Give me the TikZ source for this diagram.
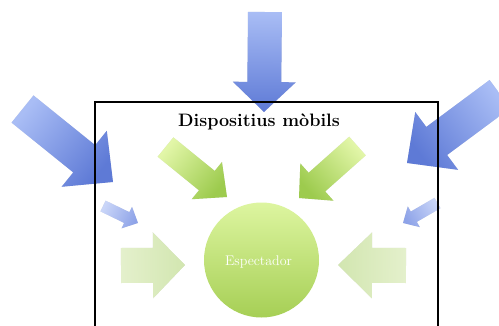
\documentclass[tikz,border=0pt]{standalone}
\usetikzlibrary{calc}
\definecolor{bluelight}{HTML}{A9BDF5}
\definecolor{bluedark}{HTML}{5E7AD6}
\definecolor{bluepale}{HTML}{C9D5F8}
\definecolor{bluepaledark}{HTML}{8EA3E8}
\definecolor{greenlight}{HTML}{E2F6A8}
\definecolor{greendark}{HTML}{9DCB4E}
\definecolor{greenpale}{HTML}{E4F0CC}
\definecolor{greenpaledark}{HTML}{D2E6B0}
\definecolor{circtop}{HTML}{DDF5A0}
\definecolor{circbot}{HTML}{A6CF55}
% #1 tail, #2 tip, #3 shaft half width, #4 head half width, #5 head length, #6 light, #7 dark
\newcommand{\blockarrow}[7]{%
  \coordinate (at) at #1;
  \coordinate (ap) at #2;
  \coordinate (ab) at ($(ap)!#5pt!(at)$);
  \path let \p1=($(ap)-(at)$), \n1={atan2(\y1,\x1)} in
    \pgfextra{\xdef\arrang{\n1}};
  \fill[black,opacity=0.12,shift={(1.5pt,-2pt)}]
    ($(at)!#3pt!-90:(ap)$) -- ($(ab)!#3pt!90:(at)$) -- ($(ab)!#4pt!90:(at)$) -- (ap)
    -- ($(ab)!#4pt!-90:(at)$) -- ($(ab)!#3pt!-90:(at)$) -- ($(at)!#3pt!90:(ap)$) -- cycle;
  \shade[top color=#7, bottom color=#6, shading angle=\arrang-90]
    ($(at)!#3pt!-90:(ap)$) -- ($(ab)!#3pt!90:(at)$) -- ($(ab)!#4pt!90:(at)$) -- (ap)
    -- ($(ab)!#4pt!-90:(at)$) -- ($(ab)!#3pt!-90:(at)$) -- ($(at)!#3pt!90:(ap)$) -- cycle;
}
\begin{document}
\begin{tikzpicture}[x=1pt,y=1pt,
  titletext/.style={font=\bfseries\fontsize{18}{20}\selectfont, text=black},
  esptext/.style={font=\fontsize{14}{16}\selectfont, text=white},
  framebox/.style={draw=black, line width=2pt}]
\useasboundingbox (0,0) rectangle (499,-325);
\clip (0,0) rectangle (499,-325);
% outer blue arrows
\blockarrow{(265,-12)}{(264,-112)}{17}{31.5}{30}{bluelight}{bluedark}
\blockarrow{(22.5,-109)}{(113,-182)}{17.5}{36}{37}{bluelight}{bluedark}
\blockarrow{(500,-94)}{(407,-163)}{17.5}{36}{37}{bluelight}{bluedark}
\blockarrow{(103,-206)}{(138,-223)}{6}{12}{12.5}{bluepale}{bluepaledark}
\blockarrow{(437.5,-203)}{(403,-223)}{6}{12}{12.5}{bluepale}{bluepaledark}
% inner green arrows
\blockarrow{(165.5,-147)}{(227,-197)}{12.5}{24}{26}{greenlight}{greendark}
\blockarrow{(357.5,-146)}{(299,-198)}{12.5}{25}{24}{greenlight}{greendark}
\blockarrow{(121,-265.5)}{(185,-265)}{17.5}{33}{32}{greenpale}{greenpaledark}
\blockarrow{(406,-265.5)}{(338,-265)}{17.5}{33}{34}{greenpale}{greenpaledark}
% spectator
\shade[top color=circtop, bottom color=circbot] (261.5,-260) circle (57.5);
\node[esptext] (esp) at (258.5,-262) {Espectador};
% frame and title
\draw[framebox] (95,-101.5) rectangle (438,-340);
\node[titletext] (title) at (259,-121.5) {Dispositius mòbils};
\end{tikzpicture}
\end{document}
